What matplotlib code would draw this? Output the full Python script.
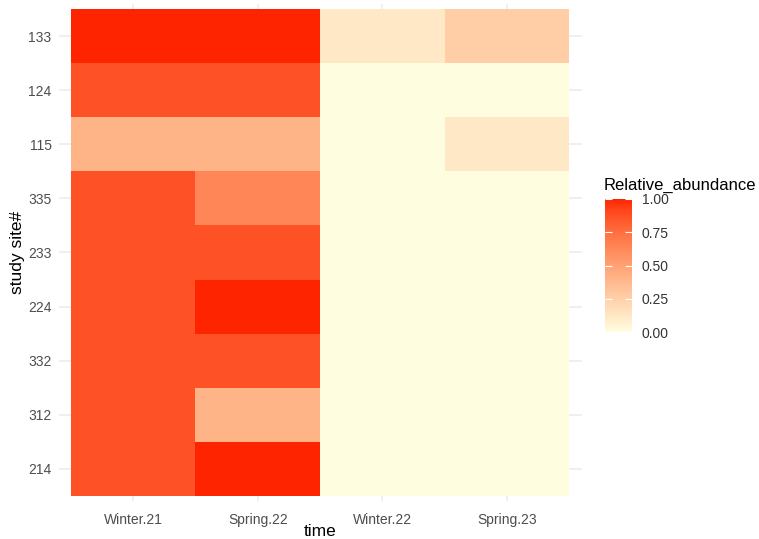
import numpy as np
import matplotlib
matplotlib.use("Agg")
import matplotlib.pyplot as plt
from matplotlib.colors import ListedColormap, to_rgb

plt.rcParams['font.family'] = ['Liberation Sans', 'DejaVu Sans']

# data
times = ["Winter.21", "Spring.22", "Winter.22", "Spring.23"]
sites = ["214", "312", "332", "224", "233", "335", "115", "124", "133"]  # bottom to top
abund_214 = [0.87, 1.00, 0.00, 0.00]
abund_312 = [0.87, 0.40, 0.00, 0.00]
abund_332 = [0.87, 0.87, 0.00, 0.00]
abund_224 = [0.87, 1.00, 0.00, 0.00]
abund_233 = [0.87, 0.87, 0.00, 0.00]
abund_335 = [0.87, 0.64, 0.00, 0.00]
abund_115 = [0.40, 0.40, 0.00, 0.12]
abund_124 = [0.87, 0.87, 0.00, 0.00]
abund_133 = [1.00, 1.00, 0.12, 0.26]
Z = np.array([abund_214, abund_312, abund_332, abund_224, abund_233,
              abund_335, abund_115, abund_124, abund_133])


# ggplot-style gradient (interpolated in Lab space)
def srgb2lab(c):
    c = np.array(c)
    lin = np.where(c <= 0.04045, c / 12.92, ((c + 0.055) / 1.055) ** 2.4)
    M = np.array([[0.4124, 0.3576, 0.1805],
                  [0.2126, 0.7152, 0.0722],
                  [0.0193, 0.1192, 0.9505]])
    xyz = M @ lin / np.array([0.95047, 1.0, 1.08883])
    f = np.where(xyz > 0.008856, np.cbrt(xyz), 7.787 * xyz + 16 / 116)
    return np.array([116 * f[1] - 16, 500 * (f[0] - f[1]), 200 * (f[1] - f[2])])


def lab2srgb(lab):
    L, a, b = lab
    fy = (L + 16) / 116
    fx = fy + a / 500
    fz = fy - b / 200
    f = np.array([fx, fy, fz])
    xyz = np.where(f ** 3 > 0.008856, f ** 3, (f - 16 / 116) / 7.787)
    xyz = xyz * np.array([0.95047, 1.0, 1.08883])
    Minv = np.array([[3.2406, -1.5372, -0.4986],
                     [-0.9689, 1.8758, 0.0415],
                     [0.0557, -0.2040, 1.0570]])
    lin = Minv @ xyz
    lin = np.clip(lin, 0, 1)
    c = np.where(lin <= 0.0031308, 12.92 * lin, 1.055 * lin ** (1 / 2.4) - 0.055)
    return np.clip(c, 0, 1)


lo = srgb2lab(to_rgb("#FFFDE0"))
hi = srgb2lab(to_rgb("#FF2400"))
cols = [lab2srgb(lo + (hi - lo) * t) for t in np.linspace(0, 1, 256)]
cmap = ListedColormap(cols)

fig = plt.figure(figsize=(7.59, 5.39), dpi=100)
ax = fig.add_axes([58.5 / 759, 1 - 501.4 / 539, 523 / 759, 497.8 / 539])

xe = np.arange(len(times) + 1) - 0.5
ye = np.arange(len(sites) + 1) - 0.5
mesh = ax.pcolormesh(xe, ye, Z, cmap=cmap, vmin=0, vmax=1, zorder=2)

ax.set_xlim(-0.6, len(times) - 0.4)
ax.set_ylim(-0.6, len(sites) - 0.4)
ax.set_xticks(range(len(times)))
ax.set_xticklabels(times)
ax.set_yticks(range(len(sites)))
ax.set_yticklabels(sites)
ax.grid(True, color="#EBEBEB", linewidth=1.1, zorder=0)
ax.set_axisbelow(True)
for s in ax.spines.values():
    s.set_visible(False)
ax.tick_params(length=0, labelsize=10, labelcolor="#4D4D4D")
ax.tick_params(axis="x", pad=8)
ax.tick_params(axis="y", pad=5)
ax.set_xlabel("time", fontsize=12.5, labelpad=-2)
ax.set_ylabel("study site#", fontsize=12.5, labelpad=2)

cax = fig.add_axes([605 / 759, 1 - 332 / 539, 27 / 759, 133 / 539])
cb = fig.colorbar(mesh, cax=cax)
cb.outline.set_visible(False)
cb.set_ticks([0, 0.25, 0.5, 0.75, 1.0])
cb.set_ticklabels(["0.00", "0.25", "0.50", "0.75", "1.00"])
cax.tick_params(left=True, right=True, labelleft=False, labelright=True,
                direction="in", color="white", length=5, width=0.8,
                labelsize=10, labelcolor="#333333", pad=7)
fig.text(604 / 759, 1 - 185 / 539, "Relative_abundance", fontsize=12,
         va="center", ha="left")

fig.savefig("out.png", dpi=100)
